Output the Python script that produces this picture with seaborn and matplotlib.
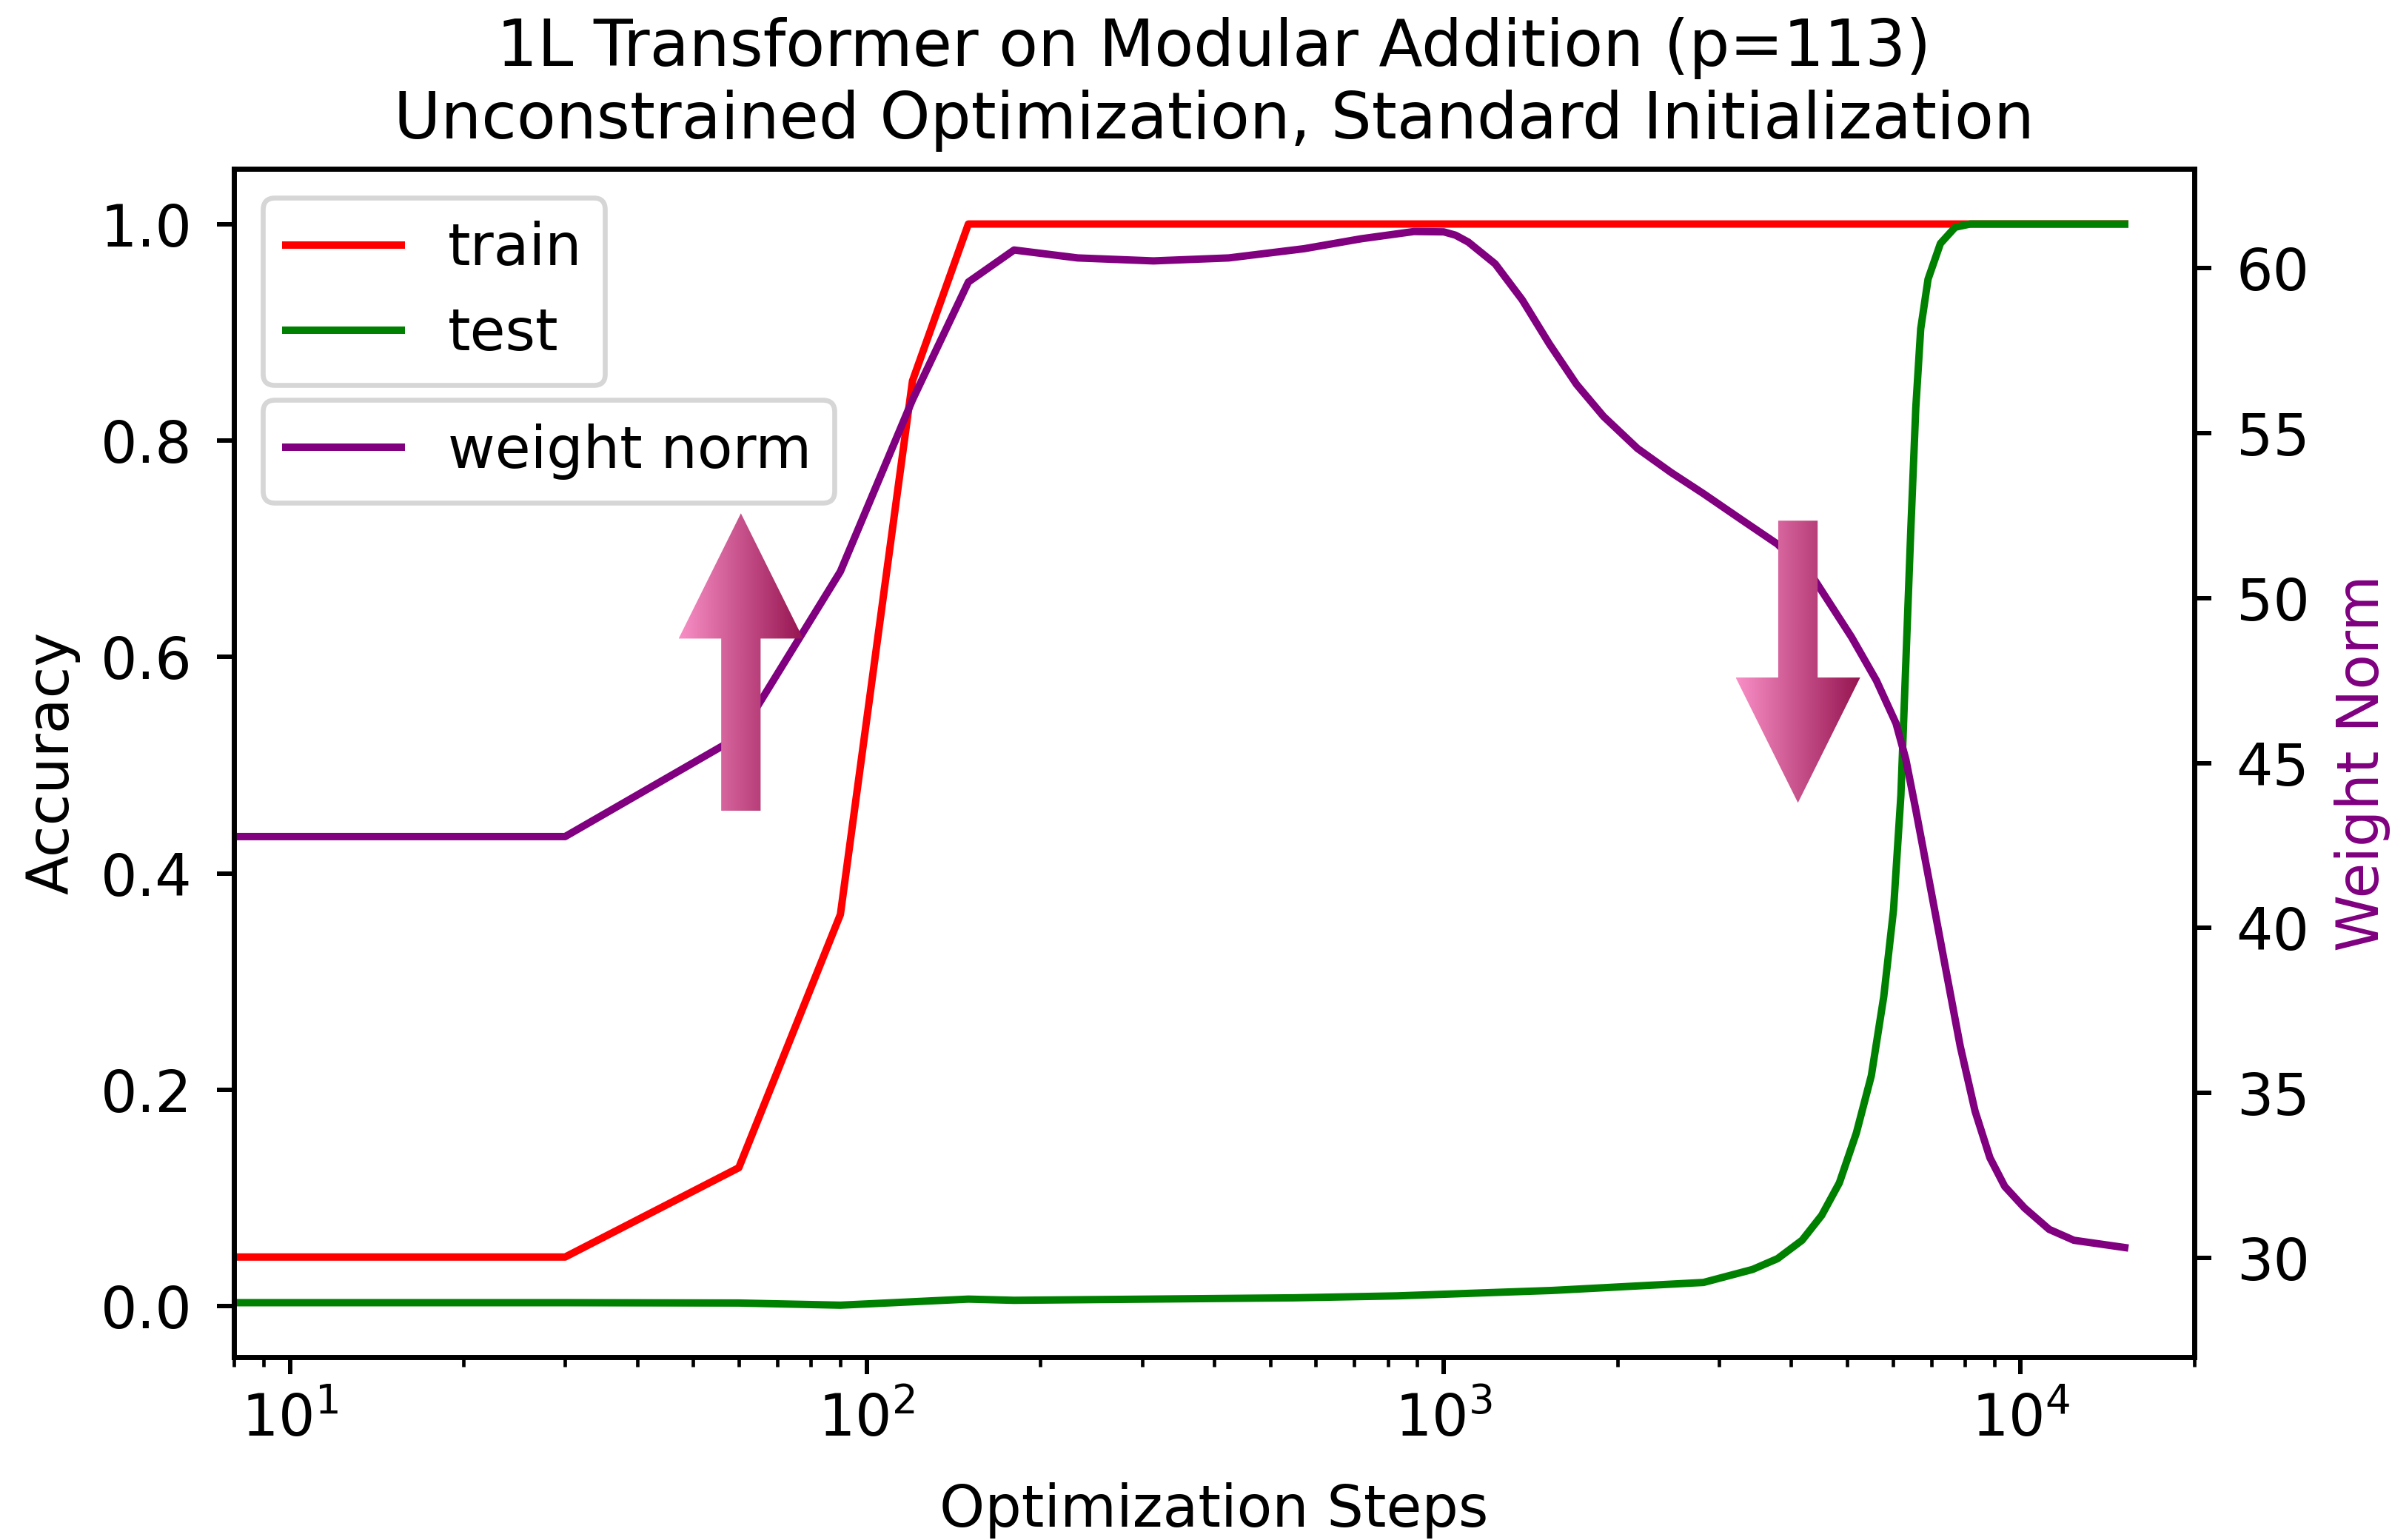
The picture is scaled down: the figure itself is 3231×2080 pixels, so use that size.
import numpy as np
import matplotlib
matplotlib.use("Agg")
import matplotlib.pyplot as plt
import seaborn as sns
from matplotlib.colors import LinearSegmentedColormap, Normalize
from matplotlib.image import AxesImage
from matplotlib.patches import PathPatch
from matplotlib.path import Path

# values
train_steps = [0, 30, 60, 90, 120, 150, 15150]
train_acc = [0.0455, 0.0455, 0.128, 0.362, 0.855, 1.0, 1.0]

test_steps = [0, 30, 60, 90, 150, 180, 550, 830, 1540, 2820, 3110,
              3430, 3790, 4180, 4520, 4850, 5190, 5510, 5790, 6020,
              6200, 6320, 6450, 6580, 6710, 6910, 7260, 7700, 8180, 15150]
test_acc = [0.0033, 0.0033, 0.003, 0.001, 0.0066, 0.0055, 0.0078, 0.0096, 0.0146, 0.022, 0.028,
            0.034, 0.044, 0.061, 0.084, 0.114, 0.160, 0.213, 0.286, 0.366,
            0.472, 0.591, 0.717, 0.830, 0.903, 0.949, 0.982, 0.997, 1.0, 1.0]

norm_steps = [0, 30, 60, 90, 120, 150, 180,
              232, 314, 424, 573, 719, 888, 1000, 1048, 1103, 1228,
              1368, 1525, 1699, 1892, 2166, 2478, 2819,
              3269, 3789, 4393, 5093, 5622, 6081, 6324, 6579,
              6981, 7407, 7859, 8337, 8845, 9385, 10153, 11205, 12366, 15150]
norm_vals = [42.77, 42.77, 45.8, 50.8, 56.0, 59.57, 60.54,
             60.30, 60.21, 60.30, 60.58, 60.88, 61.10, 61.09, 60.99, 60.78, 60.12,
             59.03, 57.69, 56.47, 55.50, 54.53, 53.80, 53.16,
             52.39, 51.63, 50.55, 48.81, 47.50, 46.20, 45.11, 43.59,
             41.20, 38.80, 36.41, 34.45, 33.04, 32.17, 31.52, 30.87, 30.54, 30.32]

FS = 11.7
plt.rcParams["axes.linewidth"] = 1.0
plt.rcParams["xtick.major.width"] = 0.9
plt.rcParams["ytick.major.width"] = 0.9
plt.rcParams["xtick.minor.width"] = 0.7

fig, ax1 = plt.subplots(figsize=(3231 / 480, 2080 / 480), dpi=480)
fig.subplots_adjust(left=316 / 3231, right=2964 / 3231, top=1 - 228 / 2080, bottom=1 - 1833 / 2080)

sns.lineplot(x=train_steps, y=train_acc, ax=ax1, color="red", linewidth=1.5, label="train", legend=False)
sns.lineplot(x=test_steps, y=test_acc, ax=ax1, color="green", linewidth=1.5, label="test", legend=False)

ax2 = ax1.twinx()
sns.lineplot(x=norm_steps, y=norm_vals, ax=ax2, color="purple", linewidth=1.5, label="weight norm", legend=False)

ax1.set_xscale("log")
ax1.set_xlim(8, 2e4)
ax1.set_ylim(-0.047, 1.051)
ax2.set_ylim(27.0, 63.0)
ax2.set_yticks(range(30, 61, 5))

ax1.set_xlabel("Optimization Steps", fontsize=FS, labelpad=7)
ax1.set_ylabel("Accuracy", fontsize=FS)
ax2.set_ylabel("Weight Norm", fontsize=FS, color="purple", labelpad=5)
ax1.tick_params(axis="both", labelsize=FS)
ax1.tick_params(axis="y", pad=5)
ax2.tick_params(axis="y", labelsize=FS, pad=5)

ax1.set_title("1L Transformer on Modular Addition (p=113)\n"
              "Unconstrained Optimization, Standard Initialization",
              fontsize=13, pad=6.2)

ax1.legend(loc="upper left", fontsize=FS)
ax2.legend(loc="upper left", bbox_to_anchor=(0, 0.8296), fontsize=FS)

# gradient arrows (axes fraction coordinates)
arrow_cmap = LinearSegmentedColormap.from_list("arrow", ["#f98fc6", "#951450"])


def gradient_arrow(ax, cx, y_tail, y_tip, shaft_w=0.0201, head_w=0.0635, head_len=0.1054):
    d = 1 if y_tip > y_tail else -1
    y_neck = y_tip - d * head_len
    verts = [(cx - shaft_w / 2, y_tail), (cx + shaft_w / 2, y_tail), (cx + shaft_w / 2, y_neck),
             (cx + head_w / 2, y_neck), (cx, y_tip), (cx - head_w / 2, y_neck),
             (cx - shaft_w / 2, y_neck), (cx - shaft_w / 2, y_tail)]
    patch = PathPatch(Path(verts, closed=True), facecolor="none", edgecolor="none",
                      transform=ax.transAxes)
    grad = np.linspace(0, 1, 256).reshape(1, -1)
    im = AxesImage(ax, cmap=arrow_cmap, norm=Normalize(0, 1), interpolation="bilinear",
                   extent=(cx - head_w / 2, cx + head_w / 2, min(y_tail, y_tip), max(y_tail, y_tip)),
                   transform=ax.transAxes, zorder=5)
    im.set_data(grad)
    ax.add_image(im)
    im.set_clip_path(patch)


gradient_arrow(ax2, 0.2586, 0.4598, 0.7101)
gradient_arrow(ax2, 0.7978, 0.7039, 0.4665)

plt.savefig("out.png", dpi=480)
